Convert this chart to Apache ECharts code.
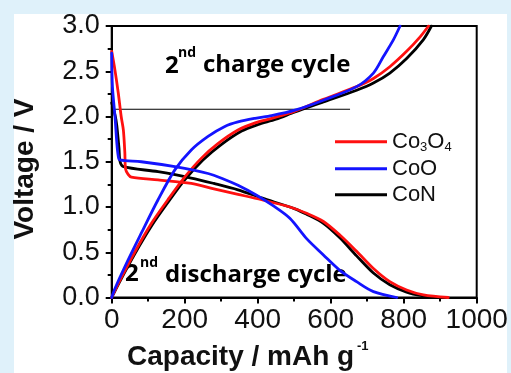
<!DOCTYPE html>
<html><head><meta charset="utf-8">
<script src="https://cdn.jsdelivr.net/npm/echarts@6/dist/echarts.min.js"></script>
<style>
html,body{margin:0;padding:0;background:#dff1fa;width:511px;height:373px;overflow:hidden;}
#panel{position:absolute;left:14px;top:14px;width:493px;height:359px;background:#ffffff;}
#chart{position:absolute;left:0;top:0;width:511px;height:373px;}
</style></head><body>
<div id="panel"></div><div id="chart"></div>
<script>
// ---- data ----
const xTicks = [0, 200, 400, 600, 800, 1000];
const yTicks = [0.0, 0.5, 1.0, 1.5, 2.0, 2.5, 3.0];
const legendNames = ['Co3O4', 'CoO', 'CoN'];

const co3o4Discharge = [[0,2.72],[9,2.51],[18,2.26],[26,2.0],[32,1.85],[36,1.6],[38,1.42],[45,1.36],[54,1.33],[127,1.30],[218,1.26],[280,1.20],[346,1.14],[411,1.08],[488,1.0],[534,0.93],[580,0.84],[625,0.69],[671,0.51],[717,0.32],[762,0.175],[808,0.083],[854,0.028],[922,0]];
const co3o4Charge = [[0,0],[20,0.17],[63,0.50],[109,0.82],[154,1.08],[200,1.33],[246,1.54],[291,1.70],[346,1.85],[393,1.93],[438,1.98],[502,2.06],[580,2.19],[671,2.33],[717,2.42],[762,2.55],[808,2.72],[845,2.88],[868,3.0]];
const cooDischarge = [[0,2.70],[2,2.33],[9,2.0],[14,1.71],[18,1.56],[22,1.52],[81,1.50],[173,1.445],[264,1.37],[306,1.31],[346,1.24],[397,1.13],[440,1.02],[488,0.875],[534,0.65],[580,0.47],[625,0.30],[671,0.175],[717,0.065],[781,0]];
const cooCharge = [[0,0],[9,0.10],[36,0.34],[81,0.71],[127,1.08],[173,1.41],[218,1.63],[264,1.78],[310,1.89],[346,1.94],[393,1.98],[438,2.01],[502,2.07],[580,2.18],[671,2.33],[717,2.48],[744,2.66],[772,2.85],[790,3.0]];
const conDischarge = [[0,2.15],[10,2.0],[14,1.9],[20,1.65],[23,1.5],[32,1.445],[127,1.39],[218,1.32],[280,1.26],[346,1.19],[411,1.10],[502,0.98],[534,0.92],[580,0.82],[625,0.66],[671,0.46],[717,0.27],[762,0.14],[808,0.06],[850,0.02],[892,0]];
const conCharge = [[0,0],[20,0.16],[63,0.48],[109,0.79],[154,1.05],[200,1.30],[250,1.52],[300,1.69],[356,1.84],[400,1.91],[450,1.97],[502,2.05],[580,2.16],[671,2.29],[717,2.37],[762,2.48],[808,2.64],[854,2.85],[876,3.0]];
const markerLine = [[0,2.08],[653,2.08]];

// ---- chart ----
const FONT = '"Liberation Sans", Arial, sans-serif';
const BOLD = '"Open Sans", "Noto Sans", sans-serif';
const RED = '#ff1010', BLUE = '#1414ff', BLACK = '#000000';
const chart = echarts.init(document.getElementById('chart'), null, {renderer: 'canvas'});

function curve(name, data, color, z) {
  return {name: name, type: 'line', data: data, symbol: 'none', showSymbol: false,
    smooth: 0.3, z: z,
    lineStyle: {color: color, width: 2.8, join: 'round', cap: 'round'}, itemStyle: {color: color}};
}
function axisCommon(ticks, size, margin, fmt) {
  return {
    min: ticks[0], max: ticks[ticks.length - 1], interval: ticks[1] - ticks[0],
    axisLine: {show: true, lineStyle: {color: '#000', width: 2}},
    axisTick: {show: true, inside: false, length: 6, lineStyle: {color: '#000', width: 2}},
    minorTick: {show: true, splitNumber: 2, length: 4, lineStyle: {color: '#000', width: 2}},
    splitLine: {show: false},
    axisLabel: {fontFamily: FONT, fontSize: size, color: '#111', margin: margin, formatter: fmt}
  };
}
const legendFmt = {
  'Co3O4': '{m|Co}{s|3}{m|O}{s|4}',
  'CoO': '{m|CoO}',
  'CoN': '{m|CoN}'
};

const option = {
  animation: false,
  grid: {left: 111.7, top: 26, right: 34.3, bottom: 75.5, show: true,
    borderColor: '#000', borderWidth: 2, backgroundColor: 'transparent'},
  xAxis: Object.assign({type: 'value'}, axisCommon(xTicks, 28, 9, v => String(v))),
  yAxis: Object.assign({type: 'value'}, axisCommon(yTicks, 27, 12, v => v.toFixed(1))),
  legend: {
    data: legendNames, orient: 'vertical', left: 335, top: 130.7, padding: 0,
    itemGap: 4, itemWidth: 52, itemHeight: 3, icon: 'rect', selectedMode: false,
    formatter: n => legendFmt[n],
    textStyle: {fontFamily: FONT, color: '#111', rich: {
      m: {fontFamily: FONT, fontSize: 22, lineHeight: 24, color: '#111'},
      s: {fontFamily: FONT, fontSize: 13, lineHeight: 13, verticalAlign: 'bottom', color: '#111'}
    }}
  },
  series: [
    {name: 'marker', type: 'line', data: markerLine, symbol: 'none', z: 1,
      lineStyle: {color: '#000', width: 1}},
    curve('CoN', conDischarge, BLACK, 2),
    curve('CoN', conCharge, BLACK, 2),
    curve('Co3O4', co3o4Discharge, RED, 3),
    curve('Co3O4', co3o4Charge, RED, 3),
    curve('CoO', cooDischarge, BLUE, 4),
    curve('CoO', cooCharge, BLUE, 4)
  ],
  graphic: [
    {type: 'text', x: 165, y: 65.7, style: {text: '2', font: 'bold 24px ' + BOLD, fill: '#000', verticalAlign: 'middle'}},
    {type: 'text', x: 178, y: 52.9, style: {text: 'nd', font: 'bold 14px ' + BOLD, fill: '#000', verticalAlign: 'middle'}},
    {type: 'text', x: 203, y: 65.2, style: {text: 'charge cycle', font: 'bold 24px ' + BOLD, fill: '#000', verticalAlign: 'middle'}},
    {type: 'text', x: 125, y: 273.7, style: {text: '2', font: 'bold 24px ' + BOLD, fill: '#000', verticalAlign: 'middle'}},
    {type: 'text', x: 140, y: 262.9, style: {text: 'nd', font: 'bold 14px ' + BOLD, fill: '#000', verticalAlign: 'middle'}},
    {type: 'text', x: 165, y: 274.7, style: {text: 'discharge cycle', font: 'bold 24px ' + BOLD, fill: '#000', verticalAlign: 'middle'}},
    {type: 'text', x: 25.6, y: 169, rotation: Math.PI / 2, style: {text: 'Voltage / V', font: 'bold 28px ' + FONT, fill: '#111', align: 'center', verticalAlign: 'middle'}},
    {type: 'text', x: 127, y: 357.3, style: {text: 'Capacity / mAh g', font: 'bold 28px ' + FONT, fill: '#111', verticalAlign: 'middle'}},
    {type: 'text', x: 357, y: 346, style: {text: '-1', font: 'bold 13px ' + FONT, fill: '#111', verticalAlign: 'middle'}}
  ]
};
chart.setOption(option);
</script></body></html>
